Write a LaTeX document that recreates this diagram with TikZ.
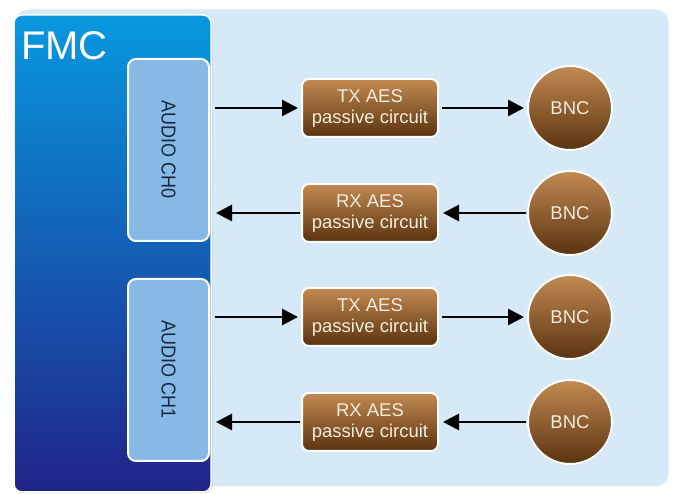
\documentclass[tikz,border=0pt]{standalone}
\usepackage{fontspec}
\setmainfont{Liberation Sans}
\usetikzlibrary{arrows.meta,shadows}
\definecolor{panelfill}{RGB}{213,233,247}
\definecolor{fmctop}{RGB}{8,152,224}
\definecolor{fmcmid}{RGB}{12,100,186}
\definecolor{fmcbot}{RGB}{32,36,136}
\definecolor{chfill}{RGB}{134,185,229}
\definecolor{chtext}{RGB}{27,40,66}
\definecolor{brtop}{RGB}{194,138,82}
\definecolor{brmid}{RGB}{142,90,42}
\definecolor{brbot}{RGB}{90,51,16}
\definecolor{cream}{RGB}{246,236,218}
\begin{document}
\begin{tikzpicture}[x=1pt,y=-1pt,
  panelbox/.style={rectangle,rounded corners=14pt,fill=panelfill,draw=white,line width=3pt,
    minimum width=656pt,minimum height=480pt,inner sep=0pt,
    drop shadow={opacity=0.12,shadow xshift=1pt,shadow yshift=-1.5pt}},
  fmcbox/.style={rectangle,rounded corners=8pt,top color=fmctop,middle color=fmcmid,bottom color=fmcbot,
    draw=white,line width=1.5pt,minimum width=197pt,minimum height=477pt,inner sep=0pt,
    drop shadow={opacity=0.2,shadow xshift=1.5pt,shadow yshift=-1.5pt}},
  chbox/.style={rectangle,rounded corners=8pt,fill=chfill,draw=white,line width=2pt,
    minimum width=81pt,minimum height=182pt,inner sep=0pt,text=chtext,
    font=\fontsize{18}{20}\selectfont},
  aesbox/.style={rectangle,rounded corners=7pt,top color=brtop,middle color=brmid,bottom color=brbot,
    draw=white,line width=2pt,minimum width=136pt,minimum height=58pt,inner sep=0pt,
    text=cream,align=center,font=\fontsize{18.5}{21}\selectfont,
    drop shadow={opacity=0.2,shadow xshift=1pt,shadow yshift=-1pt}},
  bncnode/.style={circle,top color=brtop,middle color=brmid,bottom color=brbot,
    draw=white,line width=2pt,minimum size=84pt,inner sep=0pt,
    text=cream,font=\fontsize{18.5}{20}\selectfont,
    drop shadow={opacity=0.2,shadow xshift=1pt,shadow yshift=-1pt}},
  conn/.style={line width=2.8pt,-{Triangle[length=16pt,width=16pt]}}
]
\useasboundingbox (0,0) rectangle (673,494);
\fill[white] (0,0) rectangle (673,494);

\node[panelbox] (panel) at (342,248) {};
\node[fmcbox] (fmc) at (112.5,253.5) {};
\node[anchor=base west,inner sep=0pt,text=white,font=\fontsize{40}{44}\selectfont] (fmclabel) at (21,60) {FMC};

\node[chbox] (ch0) at (168.5,150) {\rotatebox{-90}{\scalebox{1}[1.12]{AUDIO CH0}}};
\node[chbox] (ch1) at (168.5,370) {\rotatebox{-90}{\scalebox{1}[1.12]{AUDIO CH1}}};

\node[aesbox] (tx1) at (370,108) {TX AES\\passive circuit};
\node[aesbox] (rx1) at (370,213) {RX AES\\passive circuit};
\node[aesbox] (tx2) at (370,317) {TX AES\\passive circuit};
\node[aesbox] (rx2) at (370,422) {RX AES\\passive circuit};

\node[bncnode] (bnc1) at (570,108) {BNC};
\node[bncnode] (bnc2) at (570,213) {BNC};
\node[bncnode] (bnc3) at (570,317) {BNC};
\node[bncnode] (bnc4) at (570,422) {BNC};

\draw[conn,shorten <=5pt,shorten >=3pt] (ch0.east |- tx1) -- (tx1.west);
\draw[conn,shorten <=3pt,shorten >=3pt] (tx1.east) -- (bnc1.west);
\draw[conn,shorten <=1pt,shorten >=4pt] (bnc2.west) -- (rx1.east);
\draw[conn,shorten <=1pt,shorten >=6pt] (rx1.west) -- (ch0.east |- rx1);

\draw[conn,shorten <=5pt,shorten >=3pt] (ch1.east |- tx2) -- (tx2.west);
\draw[conn,shorten <=3pt,shorten >=3pt] (tx2.east) -- (bnc3.west);
\draw[conn,shorten <=1pt,shorten >=4pt] (bnc4.west) -- (rx2.east);
\draw[conn,shorten <=1pt,shorten >=6pt] (rx2.west) -- (ch1.east |- rx2);
\end{tikzpicture}
\end{document}
